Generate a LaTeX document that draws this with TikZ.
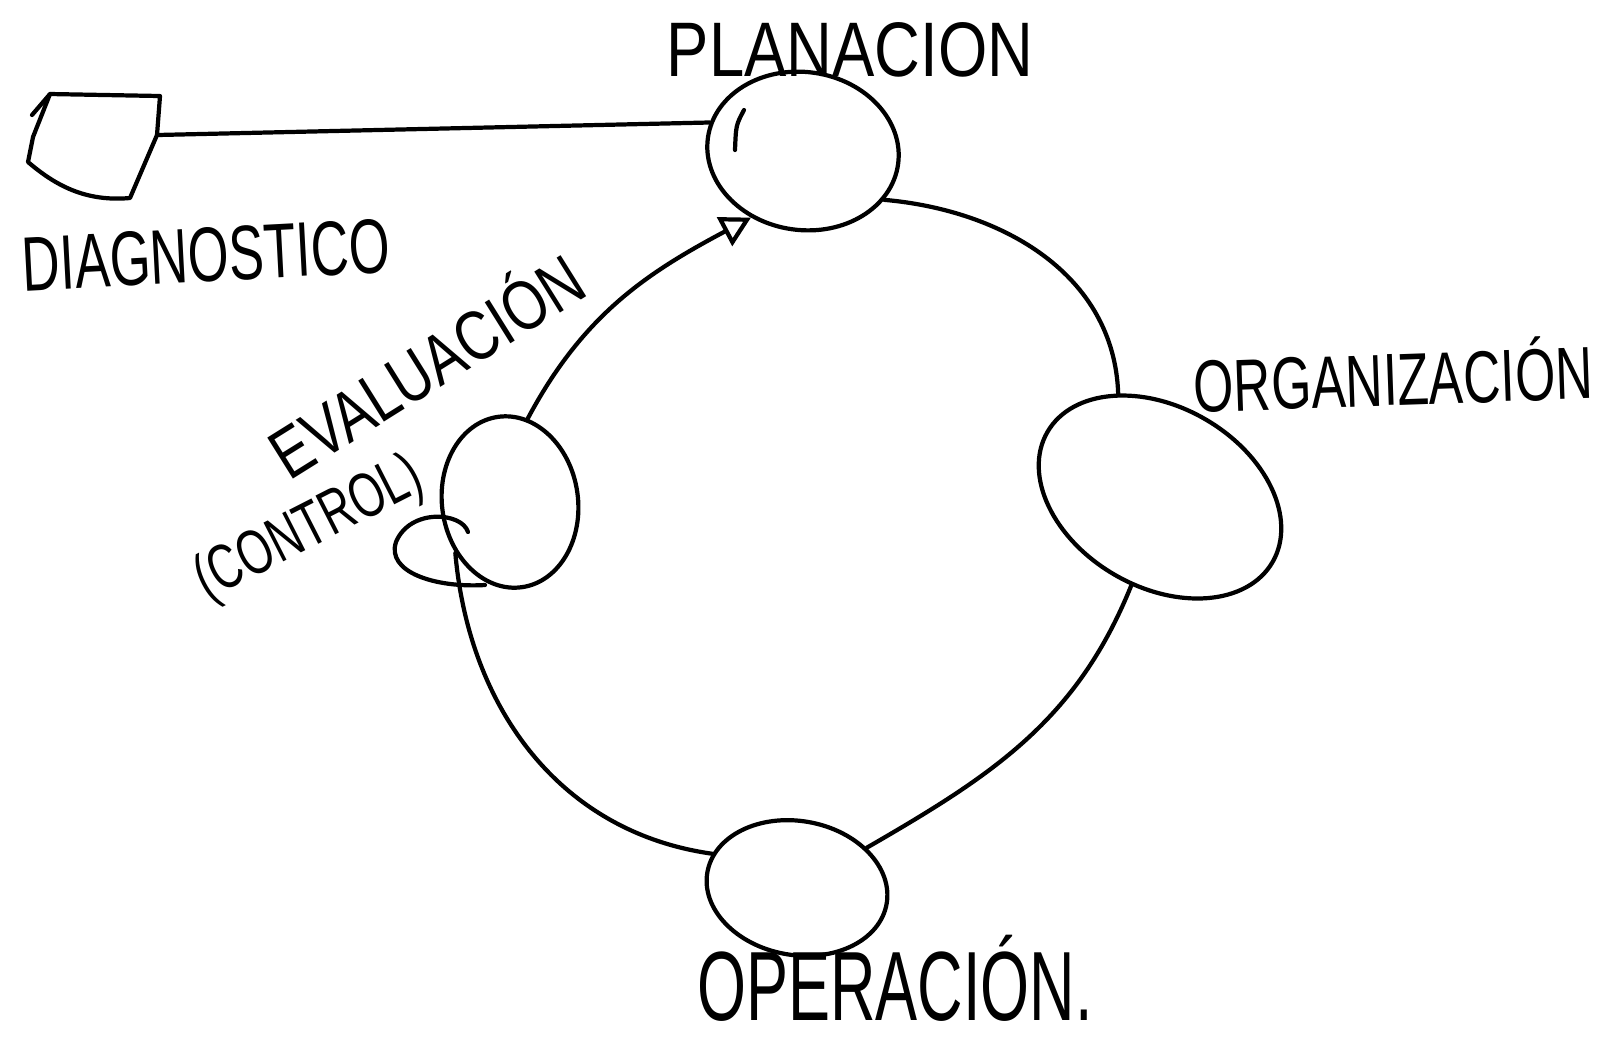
\documentclass[tikz,border=0pt]{standalone}
\usepackage{fontspec}
\setmainfont{Liberation Sans}
\usetikzlibrary{shapes.geometric,arrows.meta}
\newcommand{\hw}[2]{\scalebox{#1}[1]{#2}}

\begin{document}
\begin{tikzpicture}[
  stage/.style={ellipse, draw=black, line width=1.2pt, inner sep=0pt},
  flow/.style={line width=1.2pt, line cap=round, line join=round},
  lbl/.style={font={\fontsize{22}{24}\selectfont}, inner sep=0pt}
]
\useasboundingbox (0,0) rectangle (16.10,-10.38);

% diagnostico box
\draw[flow] (0.50,-0.94) -- (1.60,-0.96) -- (1.57,-1.35) -- (1.30,-1.98)
  .. controls (0.85,-2.02) and (0.55,-1.85) .. (0.28,-1.62) -- (0.33,-1.37) -- cycle;
\draw[flow] (0.50,-0.94) -- (0.32,-1.15);
\coordinate (diagE) at (1.57,-1.35);

% stages
\node[stage, minimum width=1.92cm, minimum height=1.58cm, rotate=-8] (plan) at (8.03,-1.51) {};
\node[stage, minimum width=2.60cm, minimum height=1.80cm, rotate=-30] (org) at (11.60,-4.97) {};
\node[stage, minimum width=1.82cm, minimum height=1.34cm, rotate=-10] (oper) at (7.97,-8.88) {};
\node[stage, minimum width=1.36cm, minimum height=1.72cm, rotate=8] (eval) at (5.10,-5.02) {};
\draw[flow] (7.35,-1.50) .. controls (7.36,-1.25) .. (7.44,-1.10);
\draw[flow] (4.68,-5.32) .. controls (4.62,-5.12) and (4.10,-5.08) .. (3.96,-5.42)
  .. controls (3.86,-5.72) and (4.35,-5.88) .. (4.85,-5.85);

% cycle
\draw[flow] (diagE) -- (plan.171);
\draw[flow, -{Triangle[open, length=3mm, width=3.2mm]}] (eval.70) to[out=62, in=208] (plan.240);
\draw[flow] (plan.-23) to[out=-5, in=92] (org.142);
\draw[flow] (org.-78) to[out=-112, in=30] (oper.40);
\draw[flow] (oper.168) to[out=172, in=-85] (eval.215);

% labels
\node[lbl] (tplan) at (8.50,-0.50) {\hw{0.82}{PLANACION}};
\node[lbl, rotate=3] (tdiag) at (2.06,-2.55) {\hw{0.68}{DIAGNOSTICO}};
\node[lbl, font={\fontsize{21}{23}\selectfont}, rotate=2] (torg) at (13.93,-3.74) {\hw{0.70}{ORGANIZACIÓN}};
\node[lbl, font={\fontsize{28}{30}\selectfont}, anchor=base] (toper) at (8.95,-10.20) {\hw{0.64}{OPERACIÓN.}};
\node[lbl, font={\fontsize{20}{22}\selectfont}, rotate=32] (teval) at (4.24,-3.62) {\hw{0.79}{EVALUACIÓN}};
\node[lbl, font={\fontsize{18}{20}\selectfont}, rotate=27] (tctrl) at (3.10,-5.30) {\hw{0.70}{(CONTROL)}};
\end{tikzpicture}
\end{document}
